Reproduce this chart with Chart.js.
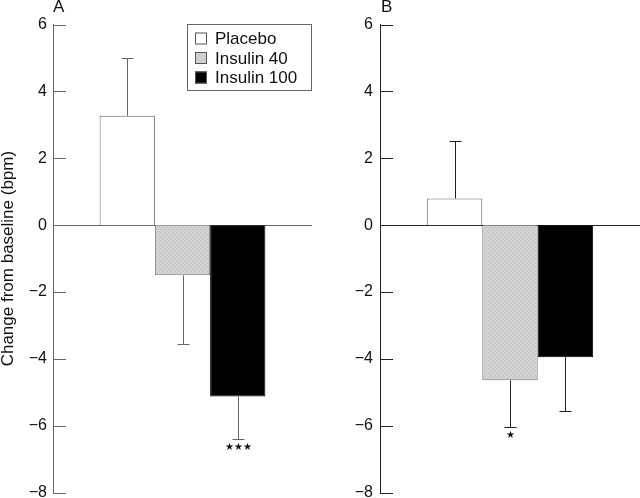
<!DOCTYPE html>
<html>
<head>
<meta charset="utf-8">
<script src="https://cdn.jsdelivr.net/npm/chart.js@4"></script>
<style>
  html, body { margin: 0; padding: 0; background: #fff; overflow: hidden; width: 640px; height: 498px; }
  .panel { position: absolute; top: 0; width: 320px; height: 510px; }
  .tag { position: absolute; top: -3px; font: 17px "Liberation Sans", Arial, sans-serif; color: #111; }
</style>
</head>
<body>
<div class="panel" style="left:0"><canvas id="panelA" width="320" height="510"></canvas></div>
<div class="panel" style="left:320px"><canvas id="panelB" width="320" height="510"></canvas></div>
<div class="tag" style="left:53px">A</div>
<div class="tag" style="left:381px">B</div>
<script>
// les données
const series = ["Placebo", "Insulin 40", "Insulin 100"];
const meansA = [3.27, -1.5, -5.12];
const errorsA = [1.72, 2.06, 1.27];
const starsA = ["", "", "★★★"];
const meansB = [0.8, -4.64, -3.95];
const errorsB = [1.72, 1.39, 1.6];
const starsB = ["", "★", ""];
const yTicks = [-8, -6, -4, -2, 0, 2, 4, 6];

const FONT = '"Liberation Sans", Arial, sans-serif';

// motif gris tramé pour Insulin 40
function trame() {
  const c = document.createElement("canvas");
  c.width = 4;
  c.height = 4;
  const g = c.getContext("2d");
  g.fillStyle = "#d4d4d4";
  g.fillRect(0, 0, 4, 4);
  g.fillStyle = "#cbcbcb";
  g.fillRect(0, 0, 2, 2);
  g.fillRect(2, 2, 2, 2);
  return g.createPattern(c, "repeat");
}

const fills = ["#ffffff", trame(), "#000000"];
const borders = ["#666666", "#777777", "#000000"];

// petites graduations vers l'intérieur + ligne du zéro + barres d'erreur + étoiles
const extras = {
  id: "extras",
  beforeDatasetsDraw(chart, args, opts) {
    const ctx = chart.ctx;
    const y = chart.scales.y;
    const area = chart.chartArea;
    ctx.save();
    ctx.strokeStyle = opts.axisColor;
    ctx.lineWidth = 1;
    ctx.beginPath();
    const y0 = Math.round(y.getPixelForValue(0)) + 0.5;
    ctx.moveTo(area.left, y0);
    ctx.lineTo(area.right, y0);
    for (const t of yTicks) {
      const py = Math.round(y.getPixelForValue(t)) + 0.5;
      ctx.moveTo(area.left, py);
      ctx.lineTo(area.left + 13, py);
    }
    ctx.stroke();
    ctx.restore();
  },
  afterDatasetsDraw(chart, args, opts) {
    const ctx = chart.ctx;
    const y = chart.scales.y;
    ctx.save();
    ctx.strokeStyle = opts.errColor;
    ctx.lineWidth = 1;
    chart.data.datasets.forEach((ds, i) => {
      const bar = chart.getDatasetMeta(i).data[0];
      const v = ds.data[0];
      const end = v + (v >= 0 ? opts.errors[i] : -opts.errors[i]);
      const x = Math.round(bar.x) + 0.5;
      const yb = y.getPixelForValue(v);
      const ye = Math.round(y.getPixelForValue(end)) + 0.5;
      ctx.beginPath();
      ctx.moveTo(x, yb);
      ctx.lineTo(x, ye);
      ctx.moveTo(x - 6, ye);
      ctx.lineTo(x + 6, ye);
      ctx.stroke();
      if (opts.stars[i]) {
        ctx.fillStyle = "#111";
        ctx.font = '10px "DejaVu Sans", sans-serif';
        ctx.textAlign = "center";
        ctx.textBaseline = "middle";
        ctx.fillText(opts.stars[i], x, ye + 8);
      }
    });
    ctx.restore();
  },
  afterDraw(chart, args, opts) {
    if (!opts.legend) return;
    const ctx = chart.ctx;
    const area = chart.chartArea;
    const bx = area.right - 125;
    const by = area.top - 0.5;
    ctx.save();
    ctx.strokeStyle = "#666";
    ctx.lineWidth = 1;
    ctx.fillStyle = "#fff";
    ctx.fillRect(bx, by, 125, 67);
    ctx.strokeRect(bx + 0.5, by + 0.5, 124, 66);
    ctx.font = "17px " + FONT;
    ctx.textBaseline = "middle";
    chart.data.datasets.forEach((ds, i) => {
      const cy = by + 14.5 + i * 19.5;
      ctx.fillStyle = ds.backgroundColor;
      ctx.fillRect(bx + 8, cy - 6, 12, 12);
      ctx.strokeStyle = "#555";
      ctx.strokeRect(bx + 8.5, cy - 5.5, 11, 11);
      ctx.fillStyle = "#111";
      ctx.fillText(ds.label, bx + 28, cy + 1);
    });
    ctx.restore();
  },
};

function panel(id, means, errors, stars, o) {
  const datasets = series.map((s, i) => ({
    label: s,
    data: [means[i]],
    backgroundColor: fills[i],
    borderColor: borders[i],
    borderWidth: 1,
    categoryPercentage: 0.64,
    barPercentage: 1,
  }));

  return new Chart(document.getElementById(id), {
    type: "bar",
    data: { labels: [""], datasets: datasets },
    plugins: [extras],
    options: {
      responsive: false,
      animation: false,
      layout: { padding: { top: 24.5, bottom: 17.3, right: o.right, left: 0 } },
      plugins: {
        legend: { display: false },
        tooltip: { enabled: false },
        extras: {
          errors: errors,
          stars: stars,
          axisColor: o.axis,
          errColor: o.err,
          legend: o.legend,
        },
      },
      scales: {
        x: { display: false },
        y: {
          min: -8,
          max: 6,
          afterFit: (scale) => { scale.width = o.axisX; },
          afterBuildTicks: (scale) => { scale.ticks = yTicks.map((v) => ({ value: v })); },
          grid: { display: false, drawTicks: false },
          border: { display: true, color: o.axis, width: 1 },
          ticks: {
            padding: o.pad,
            color: "#111",
            font: { family: FONT, size: 16 },
            callback: (v) => (v < 0 ? "\u2212" + Math.abs(v) : "" + v),
          },
          title: {
            display: o.title,
            text: "Change from baseline (bpm)",
            color: "#111",
            font: { family: FONT, size: 17, lineHeight: 1 },
            padding: 0,
          },
        },
      },
    },
  });
}

panel("panelA", meansA, errorsA, starsA, { right: 8, axisX: 53, pad: 6, axis: "#666", err: "#666", title: true, legend: true });
panel("panelB", meansB, errorsB, starsB, { right: 0, axisX: 60, pad: 7, axis: "#222", err: "#222", title: false, legend: false });
</script>
</body>
</html>
